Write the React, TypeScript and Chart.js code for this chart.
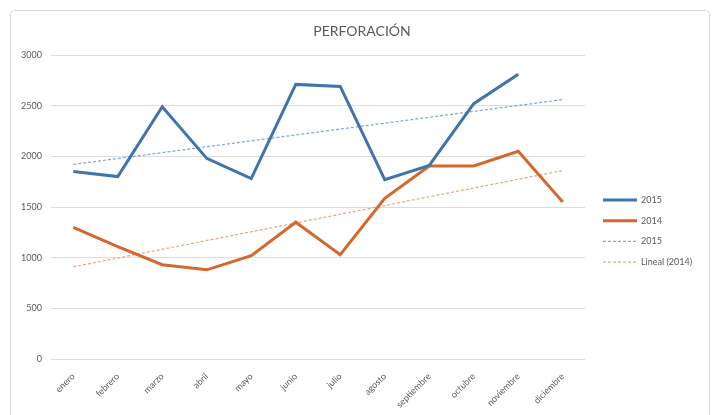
import React, { useEffect, useRef } from "react";
import { Chart, registerables } from "chart.js";

Chart.register(...registerables);

const months = [
  "enero", "febrero", "marzo", "abril", "mayo", "junio",
  "julio", "agosto", "septiembre", "octubre", "noviembre", "diciembre",
];
const values2015 = [1850, 1800, 2490, 1980, 1780, 2710, 2690, 1770, 1910, 2520, 2810, null];
const values2014 = [1300, 1110, 930, 880, 1020, 1350, 1030, 1585, 1905, 1905, 2050, 1550];
const trend2015 = [1920, null, null, null, null, null, null, null, null, null, null, 2560];
const trend2014 = [910, null, null, null, null, null, null, null, null, null, null, 1860];
const yTicks = [0, 500, 1000, 1500, 2000, 2500, 3000];
const titleText = "PERFORACIÓN";
const legendLabels = ["2015", "2014", "2015", "Lineal (2014)"];

const BLUE = "#3f74ad";
const ORANGE = "#d4692f";
const BLUE_T = "rgba(110,150,205,0.85)";
const ORANGE_T = "rgba(235,150,105,0.85)";
const FONT = "Lato, 'Open Sans', sans-serif";

export default function App() {
  const ref = useRef<HTMLCanvasElement | null>(null);

  useEffect(() => {
    if (!ref.current) return;
    const decor = {
      id: "decor",
      beforeDraw(chart: any) {
        const ctx = chart.ctx;
        ctx.save();
        ctx.fillStyle = "#ffffff";
        ctx.fillRect(0, 0, chart.width, chart.height);
        ctx.strokeStyle = "#d9d9d9";
        ctx.lineWidth = 1;
        ctx.beginPath();
        (ctx as any).roundRect(10.5, 10.5, 699, 430, 4);
        ctx.stroke();
        ctx.restore();
      },
      afterDraw(chart: any) {
        const ctx = chart.ctx;
        ctx.save();
        ctx.fillStyle = "#595959";
        ctx.font = `14px ${FONT}`;
        ctx.textAlign = "center";
        ctx.textBaseline = "middle";
        ctx.fillText(titleText, 362, 31);
        const items = [
          { c: BLUE, w: 3, d: [] as number[] },
          { c: ORANGE, w: 3, d: [] as number[] },
          { c: BLUE_T, w: 1.25, d: [3, 2] },
          { c: ORANGE_T, w: 1.25, d: [3, 2] },
        ];
        ctx.font = `9px ${FONT}`;
        ctx.textAlign = "left";
        items.forEach((it, i) => {
          const y = 200 + i * 20.7;
          ctx.strokeStyle = it.c;
          ctx.lineWidth = it.w;
          ctx.setLineDash(it.d);
          ctx.beginPath();
          ctx.moveTo(603, y);
          ctx.lineTo(637, y);
          ctx.stroke();
          ctx.setLineDash([]);
          ctx.fillStyle = "#595959";
          ctx.fillText(legendLabels[i], 641, y);
        });
        ctx.restore();
      },
    };

    const chart = new Chart(ref.current, {
      type: "line",
      data: {
        labels: months,
        datasets: [
          { label: "2015", data: values2015, borderColor: BLUE, borderWidth: 3, pointRadius: 0, tension: 0 },
          { label: "2014", data: values2014, borderColor: ORANGE, borderWidth: 3, pointRadius: 0, tension: 0 },
          { label: "2015", data: trend2015, borderColor: BLUE_T, borderWidth: 1.25, borderDash: [3, 2], pointRadius: 0, spanGaps: true },
          { label: "Lineal (2014)", data: trend2014, borderColor: ORANGE_T, borderWidth: 1.25, borderDash: [3, 2], pointRadius: 0, spanGaps: true },
        ],
      },
      options: {
        responsive: false,
        animation: false,
        layout: { padding: { left: 0, top: 55, right: 132, bottom: 0 } },
        plugins: { legend: { display: false }, title: { display: false }, tooltip: { enabled: false } },
        scales: {
          x: {
            offset: true,
            grid: { display: false },
            border: { display: false },
            ticks: {
              color: "#595959",
              font: { size: 9, family: FONT },
              minRotation: 45,
              maxRotation: 45,
              padding: 4,
              autoSkip: false,
            },
            afterFit(scale: any) { scale.height = 56; },
          },
          y: {
            min: 0,
            max: 3000,
            afterBuildTicks(scale: any) { scale.ticks = yTicks.map((v) => ({ value: v })); },
            grid: { color: "#dcdcdc", lineWidth: 1, drawTicks: false },
            border: { display: false },
            ticks: {
              color: "#595959",
              font: { size: 9, family: FONT },
              padding: 9,
              callback: (v: any) => String(v),
            },
            afterFit(scale: any) { scale.width = 51; },
          },
        },
      },
      plugins: [decor],
    });
    return () => chart.destroy();
  }, []);

  return (
    <div style={{ position: "absolute", left: 0, top: 0, width: 717, height: 415 }}>
      <canvas ref={ref} width={717} height={415} style={{ width: 717, height: 415 }} />
    </div>
  );
}
